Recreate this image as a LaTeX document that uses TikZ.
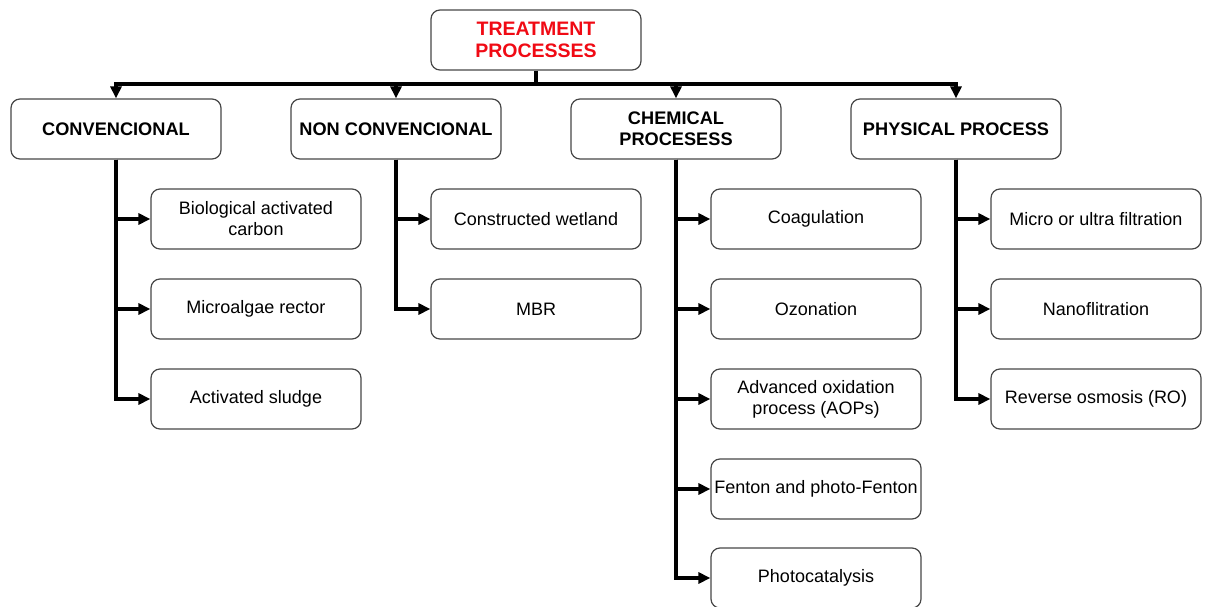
\documentclass[tikz,border=0pt]{standalone}
\usepackage{fontspec}
\setmainfont{Liberation Sans}
\usetikzlibrary{arrows.meta}
\definecolor{titlered}{RGB}{240,10,20}
\definecolor{boxline}{RGB}{70,70,70}
\tikzset{
  box/.style={draw=boxline, line width=1.2pt, rounded corners=9pt, minimum width=210pt,
    minimum height=60pt, align=center, inner sep=2pt, font=\fontsize{18}{21}\selectfont},
  headbox/.style={box, font=\fontsize{18.2}{21}\selectfont\bfseries},
  link/.style={line width=3.8pt},
  arr/.style={link, -{Triangle[length=12pt,width=11pt]}}
}
\begin{document}
\begin{tikzpicture}[x=1pt,y=-1pt]
			%%%%% START %%%%%
			\useasboundingbox (0,0) rectangle (1207,607);
			
			\node[headbox, text=titlered, font=\fontsize{19.5}{22}\selectfont\bfseries] (treat) at (536, 40) {TREATMENT\\PROCESSES};
			
			\node[headbox] (conv) at (116, 129) {CONVENCIONAL};
			\node[headbox] (nonconv) at (396, 129) {NON CONVENCIONAL};
			\node[headbox] (chem) at (676, 129) {CHEMICAL\\PROCESESS};
			\node[headbox] (phys) at (956, 129) {PHYSICAL PROCESS};
			
			\node[box] (bac) at (256, 219) {Biological activated\\carbon};
			\node[box] (algae) at (256, 309) {Microalgae rector};
			\node[box] (sludge) at (256, 399) {Activated sludge};
			
			\node[box] (wetland) at (536, 219) {Constructed wetland};
			\node[box] (mbr) at (536, 309) {MBR};
			
			\node[box] (coag) at (816, 219) {Coagulation};
			\node[box] (ozon) at (816, 309) {Ozonation};
			\node[box] (aop) at (816, 399) {Advanced oxidation\\process (AOPs)};
			\node[box, inner sep=0pt] (fenton) at (816, 489) {Fenton and photo-Fenton};
			\node[box] (photo) at (816, 578) {Photocatalysis};
			
			\node[box] (filt) at (1096, 219) {Micro or ultra filtration};
			\node[box] (nano) at (1096, 309) {Nanoflitration};
			\node[box] (ro) at (1096, 399) {Reverse osmosis (RO)};
			
			\coordinate (bus) at (536, 84);
			\draw[link] (treat.south) -- (bus);
			\draw[arr] (bus) -| (conv.north);
			\draw[arr] (bus) -| (nonconv.north);
			\draw[arr] (bus) -| (chem.north);
			\draw[arr] (bus) -| (phys.north);
			
			\draw[arr] (conv.south) |- (bac.west);
			\draw[arr] (conv.south) |- (algae.west);
			\draw[arr] (conv.south) |- (sludge.west);
			
			\draw[arr] (nonconv.south) |- (wetland.west);
			\draw[arr] (nonconv.south) |- (mbr.west);
			
			\draw[arr] (chem.south) |- (coag.west);
			\draw[arr] (chem.south) |- (ozon.west);
			\draw[arr] (chem.south) |- (aop.west);
			\draw[arr] (chem.south) |- (fenton.west);
			\draw[arr] (chem.south) |- (photo.west);
			
			\draw[arr] (phys.south) |- (filt.west);
			\draw[arr] (phys.south) |- (nano.west);
			\draw[arr] (phys.south) |- (ro.west);
			%%%%% END %%%%%
\end{tikzpicture}
\end{document}
